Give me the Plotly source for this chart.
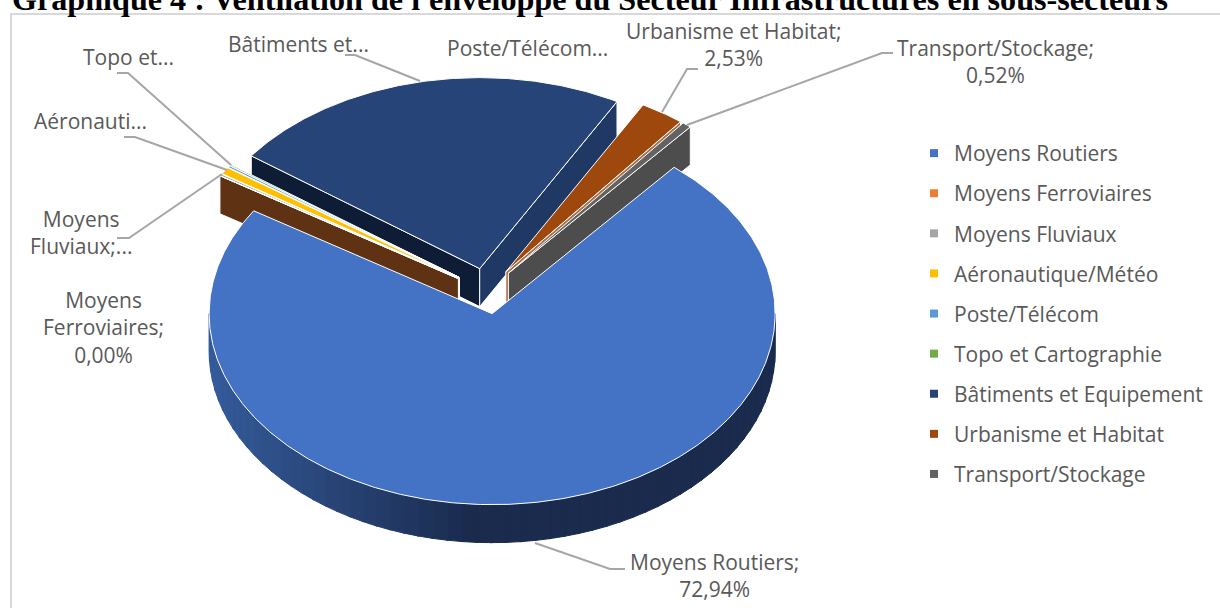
import numpy as np
import plotly.graph_objects as go

# Values in percent. The four small sectors have truncated labels, so they are estimated.
categories = ["Moyens Routiers", "Moyens Ferroviaires", "Moyens Fluviaux", "Aéronautique/Météo",
              "Poste/Télécom", "Topo et Cartographie", "Bâtiments et Equipement",
              "Urbanisme et Habitat", "Transport/Stockage"]
values = [72.94, 0.00, 0.15, 0.60, 0.15, 0.10, 23.01, 2.53, 0.52]
top_colors = ["#4472C4", "#ED7D31", "#A5A5A5", "#FFC000", "#5B9BD5", "#70AD47", "#264478", "#9E480E", "#636363"]
start_face_colors = ["#1F3864", "#5E3213", "#636363", "#997300", "#2E75B6", "#43682B", "#0E1C36", "#5E2B08", "#3B3B3B"]
end_face_colors = ["#1F3864", "#8E4B1D", "#7F7F7F", "#BF9000", "#2E75B6", "#43682B", "#1F3864", "#A8724E", "#4D4D4D"]
# back sectors first, the big one last
draw_order = [6, 5, 4, 3, 2, 1, 7, 8, 0]

FIRST_ANGLE = 40
CX, CY = 487, 291
RX, RY = 283, 191
DEPTH = 38
PULL = 0.12


def pos(center, angle, radius=1.0):
    # angle in degrees, clockwise from the top of the pie
    a = np.radians(angle)
    return center[0] + radius * RX * np.sin(a), center[1] - radius * RY * np.cos(a)


def polygon(xs, ys, color, line_color="white", line_width=1):
    return go.Scatter(x=xs, y=ys, mode="lines", fill="toself", fillcolor=color,
                      line=dict(color=line_color, width=line_width),
                      hoverinfo="skip", showlegend=False)


def mix(c1, c2, t):
    rgb = [int(c1[i:i + 2], 16) * (1 - t) + int(c2[i:i + 2], 16) * t for i in (1, 3, 5)]
    return "rgb(%d,%d,%d)" % tuple(rgb)


fig = go.Figure()

edges = FIRST_ANGLE + np.cumsum([0] + values) * 3.6
for i in draw_order:
    a, b = edges[i], edges[i + 1]
    center = pos((CX, CY), (a + b) / 2, PULL)
    ex, ey = pos(center, a)
    fx, fy = pos(center, b)

    # cut faces, only when they look towards the viewer
    if np.sin(np.radians(a)) < 0:
        fig.add_trace(polygon([center[0], ex, ex, center[0], center[0]],
                              [center[1], ey, ey + DEPTH, center[1] + DEPTH, center[1]],
                              start_face_colors[i]))
    if np.sin(np.radians(b)) > 0:
        fig.add_trace(polygon([center[0], fx, fx, center[0], center[0]],
                              [center[1], fy, fy + DEPTH, center[1] + DEPTH, center[1]],
                              end_face_colors[i]))

    # outer rim, cut in small pieces to get the gradient
    rim_a, rim_b = max(a, 90), min(b, 270)
    if rim_b > rim_a:
        for s in np.arange(rim_a, rim_b, 3.0):
            arc = np.linspace(s, min(s + 3.4, rim_b), 5)
            x, y = pos(center, arc)
            t = min(1, max(0, (x.mean() - 209) / 260))
            col = mix("#355C9B", "#1A2B4E", t)
            xs = list(x) + list(x[::-1]) + [x[0]]
            ys = list(y) + list(y[::-1] + DEPTH) + [y[0]]
            fig.add_trace(polygon(xs, ys, col, line_color=col, line_width=1))

    # top of the sector
    arc = np.linspace(a, b, max(2, int((b - a) * 2)))
    x, y = pos(center, arc)
    fig.add_trace(polygon([center[0]] + list(x) + [center[0]], [center[1]] + list(y) + [center[1]], top_colors[i]))

# legend entries
for name, color in zip(categories, top_colors):
    fig.add_trace(go.Scatter(x=[None], y=[None], mode="markers", name=name, legendgroup=name,
                             marker=dict(symbol="square", size=8, color=color), hoverinfo="skip"))

# data labels: text, centre x, centre y
labels = [
    ("Topo et...", 128, 57),
    ("Bâtiments et...", 298, 44),
    ("Poste/Télécom...", 527, 48),
    ("Urbanisme et Habitat;<br>2,53%", 733, 44),
    ("Transport/Stockage;<br>0,52%", 995, 61),
    ("Aéronauti...", 90, 121),
    ("Moyens<br>Fluviaux;...", 81, 232),
    ("Moyens<br>Ferroviaires;<br>0,00%", 103, 327),
    ("Moyens Routiers;<br>72,94%", 714, 575),
]
for text, x, y in labels:
    fig.add_annotation(x=x, y=y, text=text, showarrow=False, xanchor="center", yanchor="middle",
                       font=dict(family="Open Sans", size=21, color="#595959"))

# leader lines
leaders = [
    "M117,73 L128,73 L231,165",
    "M124,137 L135,137 L227,170",
    "M117,238 L129,238 L222,174",
    "M345,55 L355,55 L420,81",
    "M698,69 L687,69 L662,112",
    "M893,53 L882,53 L687,125",
    "M535,543 L610,569 L625,569",
]
shapes = [dict(type="path", path=p, xref="x", yref="y", line=dict(color="#A6A6A6", width=2)) for p in leaders]
# chart frame, only its top and left sides are inside the page
shapes.append(dict(type="rect", x0=11, y0=14, x1=1240, y1=640, xref="x", yref="y",
                   line=dict(color="#D9D9D9", width=2), layer="below"))

fig.add_annotation(x=10, y=19, text="<b>Graphique 4 : Ventilation de l'enveloppe du Secteur Infrastructures en sous-secteurs</b>",
                   showarrow=False, xanchor="left", yanchor="bottom",
                   font=dict(family="Liberation Serif", size=32.15, color="black"))

fig.update_layout(width=1220, height=608, margin=dict(l=0, r=0, t=0, b=0),
                  paper_bgcolor="white", plot_bgcolor="white", shapes=shapes,
                  xaxis=dict(range=[0, 1220], visible=False, fixedrange=True),
                  yaxis=dict(range=[608, 0], visible=False, fixedrange=True),
                  legend=dict(x=914 / 1220, y=1 - 133 / 608, xanchor="left", yanchor="top",
                              tracegroupgap=9.8, font=dict(family="Open Sans", size=21, color="#595959"),
                              bgcolor="rgba(0,0,0,0)"))

fig.write_html("out.html", config=dict(displayModeBar=False),
               post_script="document.body.style.margin='0';document.body.style.overflow='hidden';")
